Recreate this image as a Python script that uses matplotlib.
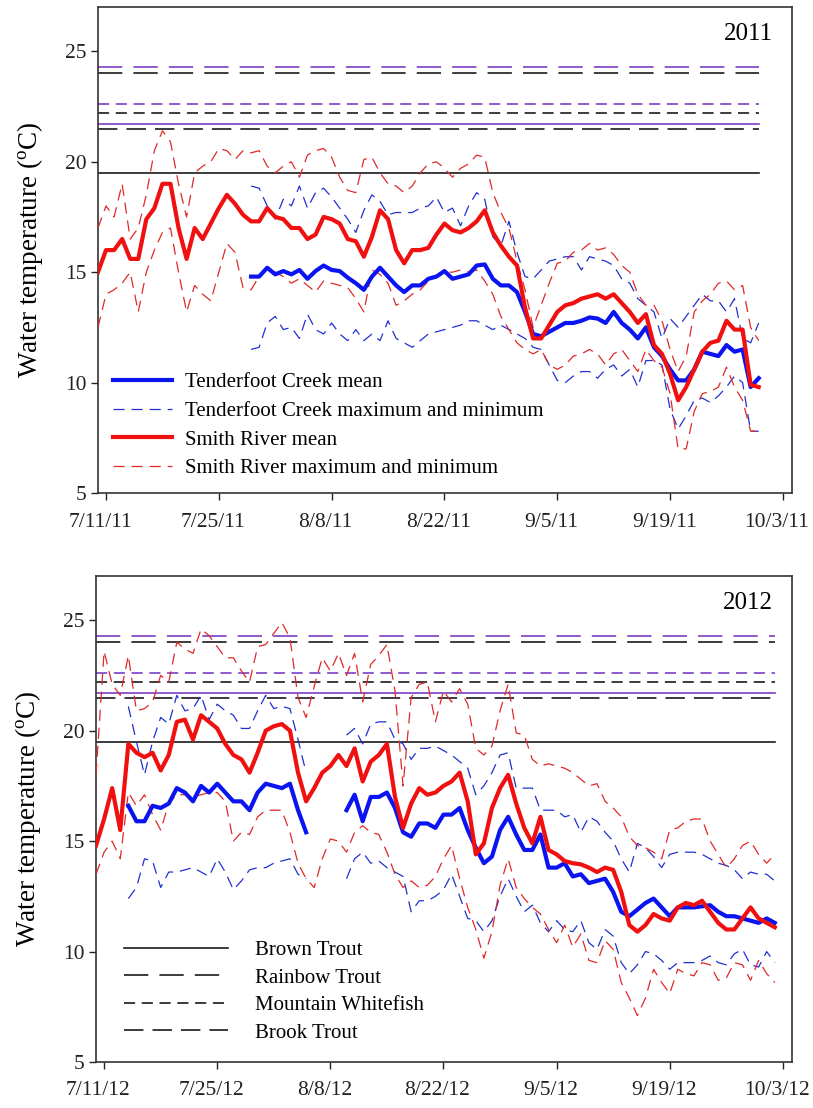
import numpy as np
import pandas as pd
import matplotlib
matplotlib.use('Agg')
import matplotlib.pyplot as plt
from matplotlib.ticker import FuncFormatter
import matplotlib.dates as mdates
import matplotlib.transforms as mtransforms

plt.rcParams['font.family'] = ['Liberation Serif', 'DejaVu Serif']
plt.rcParams['mathtext.fontset'] = 'custom'
plt.rcParams['mathtext.rm'] = 'Liberation Serif'
plt.rcParams['lines.scale_dashes'] = False

nan = np.nan

# ---------------- 2011 data ----------------
sr_start_2011 = '2011-07-10'
sr_mean_2011 = [15.0, 16.0, 16.0, 16.5, 15.6, 15.6, 17.4, 17.9, 19.0, 19.0,
                17.0, 15.6, 17.0, 16.5, 17.2, 17.9, 18.5, 18.1, 17.6, 17.3,
                17.3, 17.9, 17.5, 17.4, 17.0, 17.0, 16.5, 16.7, 17.5, 17.4,
                17.2, 16.5, 16.4, 15.7, 16.6, 17.8, 17.4, 16.0, 15.4, 16.0,
                16.0, 16.1, 16.7, 17.2, 16.9, 16.8, 17.0, 17.3, 17.8, 16.8,
                16.2, 15.7, 15.3, 13.4, 12.0, 12.0, 12.6, 13.2, 13.5, 13.6,
                13.8, 13.9, 14.0, 13.8, 14.0, 13.6, 13.2, 12.7, 13.1, 11.7,
                11.3, 10.4, 9.2, 9.8, 10.6, 11.4, 11.8, 11.9, 12.8, 12.4,
                12.4, 9.9, 9.8]
sr_max_2011 = [17.0, 18.0, 17.5, 19.0, 16.5, 17.0, 18.5, 20.5, 21.4, 20.9,
               19.0, 17.5, 19.5, 19.8, 20.0, 20.6, 20.5, 20.1, 20.5, 20.4,
               20.5, 19.8, 19.5, 19.8, 20.0, 19.3, 20.3, 20.5, 20.6, 20.2,
               19.3, 18.7, 18.6, 20.1, 20.2, 19.5, 19.0, 18.9, 18.6, 18.9,
               19.5, 19.9, 20.0, 19.7, 19.3, 19.7, 19.9, 20.3, 20.2, 18.6,
               17.7, 17.0, 15.5, 14.2, 12.5, 13.5, 14.5, 15.4, 15.5, 15.9,
               16.0, 16.3, 16.0, 16.1, 15.8, 15.3, 15.0, 14.0, 13.5, 13.5,
               12.8, 11.5, 10.5, 11.2, 13.2, 13.7, 14.0, 14.5, 14.6, 14.2,
               14.4, 12.5, 11.9]
sr_min_2011 = [12.5, 14.0, 14.2, 14.5, 15.0, 13.2, 15.0, 16.0, 16.8, 17.0,
               15.0, 13.2, 14.4, 14.0, 13.7, 15.0, 16.3, 15.9, 14.3, 14.2,
               14.8, 15.2, 15.0, 14.8, 14.5, 14.7, 14.4, 14.1, 14.6, 14.5,
               14.4, 14.3, 13.8, 13.2, 15.1, 14.9, 14.5, 13.5, 13.7, 14.0,
               14.2, 14.6, 14.8, 15.0, 15.0, 15.1, 15.0, 15.1, 14.6, 14.0,
               13.0, 12.4, 11.8, 11.5, 11.3, 11.5, 10.8, 10.6, 10.8, 11.2,
               11.3, 11.5, 11.3, 10.8, 11.3, 11.5, 11.0, 10.5, 11.5, 11.0,
               10.7, 9.5, 7.0, 7.0, 8.7, 9.5, 9.6, 9.8, 10.7, 9.8,
               9.2, 7.8, 7.8]

tc_start_2011 = '2011-07-29'
tc_mean_2011 = [14.8, 14.8, 15.2, 14.9, 15.05, 14.9, 15.1, 14.7, 15.05, 15.3,
                15.1, 15.05, 14.75, 14.5, 14.2, 14.8, 15.2, 14.8, 14.4, 14.1,
                14.4, 14.4, 14.7, 14.8, 15.05, 14.7, 14.8, 14.9, 15.3, 15.35,
                14.7, 14.4, 14.4, 14.1, 13.2, 12.2, 12.1, 12.3, 12.5, 12.7,
                12.7, 12.8, 12.95, 12.9, 12.7, 13.2, 12.7, 12.4, 12.0, 12.5,
                11.6, 11.2, 10.6, 10.1, 10.1, 10.6, 11.4, 11.3, 11.2, 11.7,
                11.4, 11.5, 9.8, 10.2]
tc_max_2011 = [18.9, 18.8, 18.0, 17.4, 18.3, 18.0, 18.9, 17.9, 18.6, 18.8,
               18.4, 17.9, 17.4, 16.8, 17.8, 18.5, 18.2, 17.6, 17.7, 17.7,
               17.7, 17.9, 18.0, 18.4, 17.7, 17.9, 17.1, 18.0, 18.6, 18.3,
               16.6, 16.2, 17.3, 15.9, 14.8, 14.7, 15.1, 15.5, 15.6, 15.7,
               15.7, 15.1, 15.7, 15.6, 15.5, 15.3, 14.7, 14.5, 13.8, 13.5,
               13.2, 12.0, 12.9, 12.5, 13.0, 13.5, 14.0, 13.7, 13.7, 13.2,
               13.8, 12.0, 11.8, 12.7]
tc_min_2011 = [11.5, 11.6, 12.7, 13.0, 12.4, 12.5, 12.0, 13.1, 12.4, 12.2,
               12.7, 12.2, 11.9, 12.4, 11.9, 12.2, 11.9, 12.8, 12.0, 11.8,
               11.6, 11.9, 12.2, 12.3, 12.4, 12.5, 12.6, 12.8, 12.8, 12.6,
               12.4, 12.6, 12.4, 12.2, 12.0, 11.6, 11.5, 10.8, 10.1, 10.0,
               10.3, 10.5, 10.5, 10.2, 10.6, 10.8, 10.3, 10.6, 9.8, 11.0,
               11.0, 10.8, 8.8, 7.9, 8.5, 9.2, 9.3, 9.1, 9.4, 9.8,
               10.3, 10.0, 7.8, 7.8]

# ---------------- 2012 data ----------------
sr_start_2012 = '2012-07-10'
sr_mean_2012 = [14.8, 16.0, 17.4, 15.5, 19.4, 19.0, 18.8, 19.0, 18.2, 18.9,
                20.4, 20.5, 19.6, 20.7, 20.4, 20.1, 19.4, 18.9, 18.7, 18.1,
                19.0, 20.0, 20.2, 20.3, 20.0, 18.1, 16.8, 17.4, 18.1, 18.4,
                18.9, 18.4, 19.2, 17.7, 18.6, 18.9, 19.4, 17.0, 15.6, 16.7,
                17.4, 17.1, 17.2, 17.5, 17.7, 18.1, 16.8, 14.4, 14.9, 16.5,
                17.4, 18.0, 16.7, 15.6, 14.9, 16.1, 14.6, 14.4, 14.1, 14.0,
                13.95, 13.8, 13.6, 13.8, 13.7, 12.7, 11.2, 10.9, 11.2, 11.7,
                11.5, 11.4, 12.0, 12.2, 12.1, 12.3, 11.8, 11.3, 11.0, 11.0,
                11.5, 12.0, 11.5, 11.3, 11.1]
sr_max_2012 = [18.0, 23.6, 22.1, 21.6, 23.4, 20.9, 21.0, 21.3, 22.5, 22.2,
               24.0, 23.7, 23.5, 24.6, 24.3, 23.8, 23.3, 23.3, 22.7, 22.2,
               23.8, 23.9, 24.4, 24.9, 24.2, 21.5, 20.6, 22.0, 23.3, 22.7,
               23.5, 22.5, 23.5, 21.3, 23.0, 23.4, 23.9, 21.8, 17.5, 21.5,
               22.1, 22.2, 20.4, 21.8, 21.3, 21.9, 21.2, 19.2, 18.9, 19.3,
               20.9, 22.1, 19.9, 19.8, 18.7, 18.4, 18.5, 18.4, 18.3, 18.1,
               17.8, 17.5, 17.6, 16.8, 16.5, 16.1, 15.2, 14.8, 14.7, 14.5,
               14.2, 15.5, 15.6, 15.9, 16.0, 16.0, 15.0, 14.4, 13.8, 14.2,
               14.8, 15.0, 14.4, 14.0, 14.4]
sr_min_2012 = [13.5, 14.5, 15.0, 14.2, 17.2, 16.6, 17.1, 16.2, 15.5, 16.7,
               17.1, 17.1, 17.0, 17.1, 17.2, 17.2, 16.8, 15.0, 15.4, 15.3,
               16.1, 16.4, 16.4, 16.4, 15.4, 14.0, 13.3, 12.9, 14.2, 15.1,
               15.0, 14.5, 15.4, 15.7, 15.4, 15.3, 14.5, 13.5, 12.9, 13.2,
               12.9, 13.0, 13.4, 14.2, 14.8, 13.3, 12.0, 11.0, 9.7, 10.9,
               13.0, 14.2, 12.9, 12.4, 12.0, 11.7, 11.0, 10.4, 11.2, 10.2,
               10.8, 9.6, 9.5, 10.5, 10.1, 8.6, 7.9, 7.1, 7.9, 9.2,
               8.6, 8.1, 9.2, 9.0, 8.9, 9.5, 9.4, 8.7, 8.8, 9.5,
               9.4, 8.7, 9.6, 9.0, 8.6]

tc_start_2012 = '2012-07-14'
tc_mean_2012 = [16.6, 15.9, 15.9, 16.6, 16.5, 16.7, 17.4, 17.2, 16.8, 17.5,
                17.2, 17.6, 17.2, 16.8, 16.8, 16.4, 17.2, 17.6, 17.5, 17.4,
                17.6, 16.4, 15.4, nan, nan, nan, nan, 16.4, 17.1, 15.9,
                17.0, 17.0, 17.2, 16.5, 15.4, 15.2, 15.8, 15.8, 15.6, 16.2,
                16.2, 16.5, 15.5, 14.7, 14.0, 14.3, 15.5, 16.1, 15.3, 14.6,
                14.6, 15.3, 13.8, 13.8, 14.0, 13.4, 13.5, 13.1, 13.2, 13.3,
                12.7, 11.8, 11.6, 11.9, 12.2, 12.4, 12.0, 11.6, 12.0, 12.0,
                12.0, 12.05, 12.1, 11.8, 11.6, 11.6, 11.5, 11.4, 11.3, 11.5,
                11.3]
tc_max_2012 = [21.1, 19.5, 18.0, 19.5, 20.6, 20.3, 21.6, 20.9, 21.0, 21.6,
               20.5, 21.2, 20.9, 20.7, 20.1, 20.1, 20.9, 21.6, 21.0, 21.1,
               21.0, 19.6, 18.1, nan, nan, nan, nan, 19.8, 20.1, 19.4,
               20.3, 20.4, 20.4, 19.6, 19.4, 18.7, 19.2, 19.2, 19.3, 19.1,
               18.9, 18.6, 18.3, 17.1, 17.5, 18.1, 18.9, 19.0, 17.4, 17.4,
               17.4, 16.4, 16.4, 16.4, 16.1, 16.2, 15.4, 16.1, 15.9, 15.4,
               15.0, 14.2, 13.6, 14.9, 14.7, 14.3, 13.8, 14.4, 14.5, 14.5,
               14.5, 14.4, 14.2, 14.0, 13.9, 13.7, 13.3, 13.6, 13.5, 13.5,
               13.2]
tc_min_2012 = [12.4, 12.9, 14.2, 14.1, 12.9, 13.6, 13.6, 13.7, 13.8, 13.6,
               13.4, 14.2, 13.6, 12.8, 13.2, 13.7, 13.8, 13.8, 14.0, 14.1,
               14.2, 13.5, 13.3, nan, nan, nan, nan, 13.3, 14.2, 14.5,
               14.0, 14.1, 13.8, 13.6, 13.4, 11.8, 12.3, 12.3, 12.5, 12.8,
               13.5, 12.5, 11.5, 11.4, 10.9, 11.4, 12.5, 13.3, 12.5, 11.8,
               12.1, 11.3, 10.9, 11.4, 11.0, 10.9, 11.4, 10.4, 10.1, 11.0,
               10.7, 9.5, 9.0, 9.4, 10.0, 9.9, 9.6, 9.2, 9.5, 9.5,
               9.5, 9.6, 9.8, 9.5, 9.4, 9.9, 10.1, 9.4, 9.3, 10.0,
               9.5]

# ---------------- thermal thresholds ----------------
species = ['Brown Trout', 'Rainbow Trout', 'Mountain Whitefish', 'Brook Trout']
threshold_black = [19.5, 24.0, 22.2, 21.5]
threshold_purple = [21.7, 24.3, 22.6, nan]

xticks_2011 = ['2011-07-11', '2011-07-25', '2011-08-08', '2011-08-22',
               '2011-09-05', '2011-09-19', '2011-10-03']
xticks_2012 = ['2012-07-11', '2012-07-25', '2012-08-08', '2012-08-22',
               '2012-09-05', '2012-09-19', '2012-10-03']
yticks = [5, 10, 15, 20, 25]

# ---------------- styles ----------------
species_dash = ['-', (0, (17.5, 8.0)), (0, (8.0, 4.8)), (0, (14.0, 6.5))]
BLUE = '#0a14f0'
RED = '#f01010'
BLUE_D = '#2030d0'
RED_D = '#e02828'
PURPLE = '#7a3fc4'
BLACK = '#1a1a1a'
DATA_DASH = (0, (8.0, 5.0))
FS_TICK = 15.5


def dates(start, n):
    return pd.date_range(start, periods=n, freq='D')


def fmt_date(x, pos=None):
    d = mdates.num2date(x)
    return f"{d.month}/{d.day}/{d.year % 100}"


fig = plt.figure(figsize=(8.13, 11.08), dpi=100)
ax1 = fig.add_axes([0.1205, 0.5550, 0.8536, 0.4386])
ax2 = fig.add_axes([0.1181, 0.0415, 0.8560, 0.4386])

panels = [
    (ax1, '2011', sr_start_2011, sr_mean_2011, sr_max_2011, sr_min_2011,
     tc_start_2011, tc_mean_2011, tc_max_2011, tc_min_2011, xticks_2011),
    (ax2, '2012', sr_start_2012, sr_mean_2012, sr_max_2012, sr_min_2012,
     tc_start_2012, tc_mean_2012, tc_max_2012, tc_min_2012, xticks_2012),
]

shift = mtransforms.ScaledTranslation(-6 / 100, 0, fig.dpi_scale_trans)

for (ax, year, srs, srm, srx, srn, tcs, tcm, tcx, tcn, xt) in panels:
    sr_d = dates(srs, len(srm))
    tc_d = dates(tcs, len(tcm))
    d0, d1 = sr_d[0], sr_d[-1]

    # threshold lines
    ref_handles = []
    for name, vb, vp, ls in zip(species, threshold_black, threshold_purple, species_dash):
        if not np.isnan(vp):
            ax.plot([d0, d1], [vp, vp], color=PURPLE, lw=1.2, ls=ls, zorder=1)
        h, = ax.plot([d0, d1], [vb, vb], color=BLACK, lw=1.2, ls=ls, zorder=1, label=name)
        ref_handles.append(h)

    # data
    h_tcm, = ax.plot(tc_d, tcm, color=BLUE, lw=3.0, zorder=4,
                     label='Tenderfoot Creek mean')
    h_tcx, = ax.plot(tc_d, tcx, color=BLUE_D, lw=0.9, ls=DATA_DASH, zorder=2,
                     label='Tenderfoot Creek maximum and minimum')
    ax.plot(tc_d, tcn, color=BLUE_D, lw=0.9, ls=DATA_DASH, zorder=2)
    h_srm, = ax.plot(sr_d, srm, color=RED, lw=3.0, zorder=5,
                     label='Smith River mean')
    h_srx, = ax.plot(sr_d, srx, color=RED_D, lw=0.9, ls=DATA_DASH, zorder=3,
                     label='Smith River maximum and minimum')
    ax.plot(sr_d, srn, color=RED_D, lw=0.9, ls=DATA_DASH, zorder=3)

    y0 = int(year)
    ax.set_xlim(pd.Timestamp(f'{y0}-07-10'), pd.Timestamp(f'{y0}-10-04 03:00'))
    ax.set_ylim(5, 27)
    ax.set_xticks(pd.to_datetime(xt))
    ax.xaxis.set_major_formatter(FuncFormatter(fmt_date))
    ax.set_yticks(yticks)
    ax.tick_params(axis='both', direction='out', length=5, width=1.0,
                   labelsize=FS_TICK, colors='#222222')
    ax.tick_params(axis='x', pad=9)
    ax.tick_params(axis='y', pad=3)
    for lbl in ax.get_xticklabels():
        lbl.set_transform(lbl.get_transform() + shift)
    for sp in ax.spines.values():
        sp.set_color('#333333')
        sp.set_linewidth(1.2)

    ax.set_ylabel('Water temperature ($\\mathregular{^{o}}$C)', fontsize=19.5)
    ax.yaxis.set_label_coords(-0.098, 0.5)
    ax.yaxis.label.set_va('center')

    ax.text(0.973, 0.945, year, transform=ax.transAxes, ha='right', va='center',
            fontsize=18)

    if year == '2011':
        ax.legend(handles=[h_tcm, h_tcx, h_srm, h_srx], loc='lower left',
                  bbox_to_anchor=(0.022, 0.03), frameon=False, fontsize=15,
                  handlelength=2.8, handletextpad=0.65, labelspacing=0.44,
                  borderpad=0, borderaxespad=0)
    else:
        ax.legend(handles=ref_handles, loc='lower left',
                  bbox_to_anchor=(0.040, 0.04), frameon=False, fontsize=15,
                  handlelength=5.0, handletextpad=1.3, labelspacing=0.38,
                  borderpad=0, borderaxespad=0)

fig.savefig('out.png', dpi=100)
